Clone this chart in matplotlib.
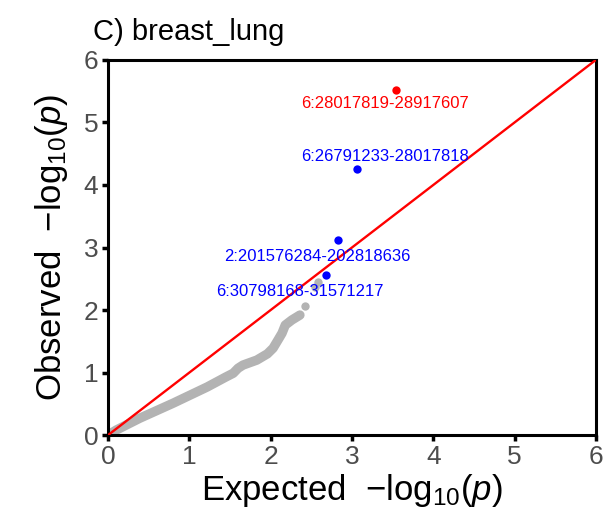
import matplotlib
matplotlib.use("Agg")
import matplotlib.pyplot as plt

plt.rcParams['font.family'] = ['Liberation Sans', 'DejaVu Sans']
plt.rcParams['mathtext.fontset'] = 'custom'
plt.rcParams['mathtext.rm'] = 'Liberation Sans'
plt.rcParams['mathtext.it'] = 'Liberation Sans:italic'

# grey QQ band (expected, observed)
band_x = [0.0, 0.10, 0.39, 0.80, 1.22, 1.45, 1.54, 1.60, 1.66, 1.83, 1.96, 2.03, 2.09, 2.14, 2.18, 2.26, 2.36]
band_y = [0.0, 0.08, 0.27, 0.51, 0.77, 0.93, 0.99, 1.07, 1.12, 1.20, 1.30, 1.39, 1.52, 1.63, 1.76, 1.84, 1.92]
# sparse grey points
grey_x = [2.42, 2.55, 2.58]
grey_y = [2.06, 2.37, 2.45]

# highlighted regions
hl_x = [3.54, 3.06, 2.83, 2.68]
hl_y = [5.52, 4.26, 3.12, 2.56]
hl_colors = ['#ff0000', '#0000ff', '#0000ff', '#0000ff']
hl_labels = ['6:28017819-28917607', '6:26791233-28017818', '2:201576284-202818636', '6:30798168-31571217']
lab_x = [3.41, 3.41, 2.58, 2.36]
lab_y = [5.30, 4.46, 2.86, 2.29]

ticks = [0, 1, 2, 3, 4, 5, 6]

fig = plt.figure(figsize=(6.15, 5.30), dpi=100)
ax = fig.add_axes([0.1756, 0.179, 0.7934, 0.708])

grey = '#b3b3b3'
ax.plot(band_x, band_y, color=grey, lw=6.8, solid_capstyle='round', solid_joinstyle='round', zorder=2)
ax.plot(grey_x, grey_y, 'o', color=grey, ms=6, mec='none', zorder=2)
ax.plot([0, 6], [0, 6], color='#ff0000', lw=1.7, zorder=3)

for x, y, c in zip(hl_x, hl_y, hl_colors):
    ax.plot([x], [y], 'o', color=c, ms=6, mec='none', zorder=4)
for x, y, t, c in zip(lab_x, lab_y, hl_labels, hl_colors):
    ax.text(x, y, t, color=c, fontsize=12, ha='center', va='center', zorder=5)

ax.set_xlim(0, 6)
ax.set_ylim(0, 6)
ax.set_xticks(ticks)
ax.set_yticks(ticks)
ax.tick_params(direction='out', length=4, width=2.5, labelsize=19, labelcolor='#4d4d4d', pad=3)
for s in ax.spines.values():
    s.set_linewidth(2.2)

ax.set_xlabel('Expected  $-\\mathrm{log}_{10}(\\mathit{p})$', fontsize=25, labelpad=2)
ax.set_ylabel('Observed  $-\\mathrm{log}_{10}(\\mathit{p})$', fontsize=25, labelpad=10)
ax.set_title('C) breast_lung', fontsize=21, loc='left', x=-0.03, pad=14)

fig.savefig('out.png', dpi=100)
